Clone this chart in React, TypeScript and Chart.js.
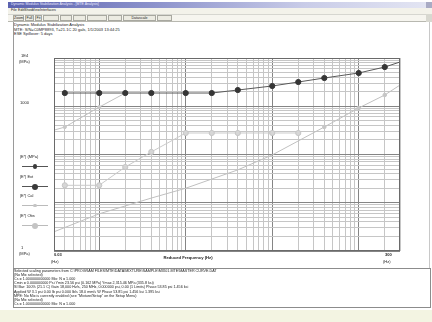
import React, { useEffect, useRef } from "react";
import { Chart, registerables } from "chart.js";

Chart.register(...registerables);

// ---- data ----
const xRange = [0.03, 300];
const yRange = [1, 10000];

const fitFreq = [0.04, 0.1, 0.2, 0.4, 1, 2, 4, 10, 20, 40, 100, 200, 300];
const fitModulus = [1880, 1880, 1880, 1880, 1880, 1880, 2170, 2630, 3180, 3850, 4890, 6500, 8260];

const asymFreq = [0.03, 0.04, 0.1, 0.2];
const asymModulus = [320, 370, 960, 1880];

const obsFreq = [0.04, 0.1, 0.2, 0.4, 1, 2, 4, 10, 20];
const obsModulus = [23, 23, 55, 113, 279, 279, 279, 279, 279];

const calFreq = [0.03, 0.1, 0.4, 1, 4, 10, 40, 100, 200, 300];
const calModulus = [2.5, 5.9, 12.5, 20, 48, 98, 372, 920, 1710, 2750];

const xLabels = ["0.03", "300"];
const yLabels = ["1E4", "1000", "1"];
const legendLabels = ["|E*| (MPa)", "|E*| Ext", "|E*| Cal", "|E*| Obs"];
const xTitle = "Reduced Frequency (Hz)";

const infoLines = [
  "Dynamic Modulus Stabilization Analysis",
  "MTE: S/N=C0MP8893, T=21.1C 20 gals, 1/1/2003 13:44:25",
  "ESE Spillover: 5 days",
];

const reportLines = [
  "Selected scaling parameters from C:\\PROGRAM FILES\\MTE\\DATA\\MIXTURE\\SAMPLE\\MIX01.MTE\\MASTER CURVE.DAT",
  "(No Mix selected)",
  "Cs = 1.000000000000  Mix: N = 1.000",
  "Cmin = 0.000000000 Psi       Ymin 23.56 psi (0.162 MPa)        Ymax 2,315.46 MPa (335.8 ksi)",
  "SI Bar: 100% (21.1 C)      Gain 18,000 Hz/s, 250 MHz, 0.000000 psi, 0.00 (1 Limits)      Phase 53.85 psi 1.456 ksi",
  "Applied W 3.1 psi   0.00 Ib psi   0.000 Ib/s   18.0 mm/s         W Phase 53.85 psi 1.456 ksi 1.395 ksi",
  "MPE: No Mix is currently enabled (see \"Mixture/Setup\" on the Setup Menu)",
  "(No Mix selected)",
  "Cs = 1.000000000000  Mix: N = 1.000",
];

const menuItems = ["File", "Edit", "Show", "View", "Interfaces"];
const toolButtons = ["Zoom", "Full", "Fit", "", "", "", "", "", "Datascale", ""];

function logTicks(range: number[]) {
  const out: number[] = [];
  const e0 = Math.floor(Math.log10(range[0]));
  const e1 = Math.ceil(Math.log10(range[1]));
  for (let e = e0; e <= e1; e++) {
    for (let k = 1; k <= 9; k++) {
      const v = parseFloat((k * Math.pow(10, e)).toPrecision(6));
      if (v >= range[0] * (1 - 1e-9) && v <= range[1] * (1 + 1e-9)) out.push(v);
    }
  }
  return out;
}

const isDecade = (v: number) => Math.abs(Math.log10(v) - Math.round(Math.log10(v))) < 1e-6;

const pts = (xs: number[], ys: number[]) => xs.map((x, i) => ({ x, y: ys[i] }));

const framePlugin = {
  id: "frame",
  afterDraw(chart: any) {
    const { ctx, chartArea: a } = chart;
    ctx.save();
    ctx.strokeStyle = "#6a6a6a";
    ctx.lineWidth = 1;
    ctx.strokeRect(a.left + 0.5, a.top + 0.5, a.right - a.left - 1, a.bottom - a.top - 1);
    ctx.restore();
  },
};

const FONT = "'Liberation Sans', Arial, sans-serif";

function T(props: { x: number; y: number; s?: number; b?: boolean; c?: string; children: any; center?: boolean }) {
  return (
    <div
      style={{
        position: "absolute",
        left: props.x,
        top: props.y,
        fontSize: props.s ?? 4.5,
        lineHeight: 1,
        fontWeight: props.b ? 700 : 400,
        color: props.c ?? "#222",
        whiteSpace: "nowrap",
        transform: props.center ? "translateX(-50%)" : undefined,
      }}
    >
      {props.children}
    </div>
  );
}

function LegendMark(props: { y: number; dark: boolean; r: number }) {
  const col = props.dark ? "#3a3a3a" : "#c4c4c4";
  return (
    <>
      <div style={{ position: "absolute", left: 22, top: props.y, width: 26, height: 1, background: props.dark ? "#555" : "#bbb" }} />
      <div
        style={{
          position: "absolute",
          left: 35 - props.r,
          top: props.y + 0.5 - props.r,
          width: props.r * 2,
          height: props.r * 2,
          borderRadius: "50%",
          background: col,
        }}
      />
    </>
  );
}

export default function App() {
  const ref = useRef<HTMLCanvasElement>(null);

  useEffect(() => {
    document.body.style.margin = "0";
    const major = "#858585";
    const minor = "#c6c6c6";
    const chart = new Chart(ref.current as HTMLCanvasElement, {
      type: "line",
      data: {
        datasets: [
          {
            label: legendLabels[0],
            data: pts(fitFreq, fitModulus),
            borderColor: "#5a5a5a",
            borderWidth: 1,
            pointBackgroundColor: "#353535",
            pointBorderColor: "#353535",
            pointRadius: (c: any) => (c.raw && c.raw.x >= xRange[1] ? 0 : 2.6),
          },
          {
            label: "asymptote",
            data: pts(asymFreq, asymModulus),
            borderColor: "#c2c2c2",
            borderWidth: 1,
            pointBackgroundColor: "#c8c8c8",
            pointBorderColor: "#c8c8c8",
            pointRadius: (c: any) => (c.raw && c.raw.x > xRange[0] && c.raw.x < 0.2 ? 1.6 : 0),
          },
          {
            label: legendLabels[3],
            data: pts(obsFreq, obsModulus),
            borderColor: "#cacaca",
            borderWidth: 1,
            pointBackgroundColor: "#d6d6d6",
            pointBorderColor: "#c6c6c6",
            pointRadius: 2.6,
          },
          {
            label: legendLabels[2],
            data: pts(calFreq, calModulus),
            borderColor: "#c0c0c0",
            borderWidth: 1,
            pointBackgroundColor: "#c6c6c6",
            pointBorderColor: "#c6c6c6",
            pointRadius: (c: any) => (c.raw && c.raw.x >= 40 && c.raw.x <= 200 ? 1.8 : 0),
          },
        ],
      },
      options: {
        animation: false,
        responsive: false,
        maintainAspectRatio: false,
        layout: { padding: { left: 40, right: 29, top: 18, bottom: 16 } },
        plugins: { legend: { display: false }, tooltip: { enabled: false } },
        elements: { line: { tension: 0 } },
        scales: {
          x: {
            type: "logarithmic",
            min: xRange[0],
            max: xRange[1],
            ticks: { display: false, autoSkip: false },
            grid: {
              drawTicks: false,
              lineWidth: 1,
              color: (c: any) => (c.tick && isDecade(c.tick.value) ? major : minor),
            },
            border: { display: false },
            afterBuildTicks: (s: any) => {
              s.ticks = logTicks(xRange).map((v) => ({ value: v }));
            },
          },
          y: {
            type: "logarithmic",
            min: yRange[0],
            max: yRange[1],
            ticks: { display: false, autoSkip: false },
            grid: {
              drawTicks: false,
              lineWidth: 1,
              color: (c: any) => (c.tick && isDecade(c.tick.value) ? major : minor),
            },
            border: { display: false },
            afterBuildTicks: (s: any) => {
              s.ticks = logTicks(yRange).map((v) => ({ value: v }));
            },
          },
        },
      } as any,
      plugins: [framePlugin],
    });
    return () => chart.destroy();
  }, []);

  const btnLefts = [13, 25, 35, 43, 60, 73, 87, 108, 123, 157];
  const btnWidths = [11, 9, 7, 16, 12, 13, 20, 14, 33, 15];

  return (
    <div
      style={{
        position: "fixed",
        left: 0,
        top: 0,
        width: 432,
        height: 322,
        overflow: "hidden",
        background: "#ffffff",
        fontFamily: FONT,
      }}
    >
      {/* title bar */}
      <div
        style={{
          position: "absolute",
          left: 8,
          top: 2,
          width: 424,
          height: 6,
          background: "linear-gradient(to right, #5c63b0, #8d93cc 35%, #c9cce8 70%, #e4e6f3)",
        }}
      />
      <T x={11} y={3} s={3.5} c="#e8e8ff">Dynamic Modulus Stabilization Analysis - [MTE Analysis]</T>
      <div style={{ position: "absolute", left: 426, top: 2, width: 6, height: 6, background: "#a9abc4" }} />
      {/* menu bar */}
      <div style={{ position: "absolute", left: 8, top: 8, width: 424, height: 6, background: "#f3f2ea" }} />
      {menuItems.map((m, i) => (
        <T key={m} x={11 + [0, 7, 13, 21, 29][i]} y={9} s={3.6}>
          {m}
        </T>
      ))}
      {/* toolbar */}
      <div
        style={{
          position: "absolute",
          left: 8,
          top: 14,
          width: 424,
          height: 8,
          background: "#f6f5ef",
          borderTop: "1px solid #d6d6d0",
          borderBottom: "1px solid #b8b8b0",
          boxSizing: "border-box",
        }}
      />
      {toolButtons.map((b, i) => (
        <div
          key={i}
          style={{
            position: "absolute",
            left: btnLefts[i],
            top: 15,
            width: btnWidths[i],
            height: 6,
            background: "#ecebe2",
            border: "1px solid #a8a8a0",
            boxSizing: "border-box",
            fontSize: 3.6,
            lineHeight: "4px",
            textAlign: "center",
            color: "#222",
          }}
        >
          {b}
        </div>
      ))}
      <div style={{ position: "absolute", left: 426, top: 14, width: 6, height: 8, background: "#d8d8d0" }} />
      {/* chart panel */}
      <div
        style={{
          position: "absolute",
          left: 13,
          top: 22,
          width: 417,
          height: 247,
          background: "#fff",
          borderLeft: "1px solid #9a9a9a",
          borderRight: "1px solid #c8c8c8",
          borderBottom: "1px solid #9a9a9a",
          boxSizing: "border-box",
        }}
      />
      {infoLines.map((l, i) => (
        <T key={i} x={14} y={23 + i * 4.5} s={4}>
          {l}
        </T>
      ))}
      <canvas
        ref={ref}
        width={415}
        height={227}
        style={{ position: "absolute", left: 14, top: 40, width: 415, height: 227 }}
      />
      {/* axis labels */}
      <T x={21} y={54} s={4}>{yLabels[0]}</T>
      <T x={19} y={60} s={4}>(MPa)</T>
      <T x={20} y={101} s={4}>{yLabels[1]}</T>
      <T x={21} y={246} s={4}>{yLabels[2]}</T>
      <T x={19} y={252} s={4}>(MPa)</T>
      <T x={54} y={253} s={4} b>{xLabels[0]}</T>
      <T x={51} y={260} s={4}>(Hz)</T>
      <T x={385} y={253} s={4} b>{xLabels[1]}</T>
      <T x={383} y={260} s={4}>(Hz)</T>
      <T x={188} y={256} s={4.2} b center>{xTitle}</T>
      {/* legend */}
      <T x={20} y={155} s={4}>{legendLabels[0]}</T>
      <LegendMark y={166} dark r={2.4} />
      <T x={20} y={175} s={4}>{legendLabels[1]}</T>
      <LegendMark y={186} dark r={3} />
      <T x={20} y={194} s={4}>{legendLabels[2]}</T>
      <LegendMark y={205} dark={false} r={1.6} />
      <T x={20} y={214} s={4}>{legendLabels[3]}</T>
      <LegendMark y={225} dark={false} r={3} />
      {/* report box */}
      <div
        style={{
          position: "absolute",
          left: 13,
          top: 268,
          width: 418,
          height: 40,
          background: "#fff",
          border: "1px solid #8c8c8c",
          boxSizing: "border-box",
        }}
      />
      {reportLines.map((l, i) => (
        <T key={i} x={14} y={270 + i * 4.1} s={3.7}>
          {l}
        </T>
      ))}
      {/* status strip */}
      <div style={{ position: "absolute", left: 0, top: 310, width: 432, height: 12, background: "#f3f4e2" }} />
    </div>
  );
}
